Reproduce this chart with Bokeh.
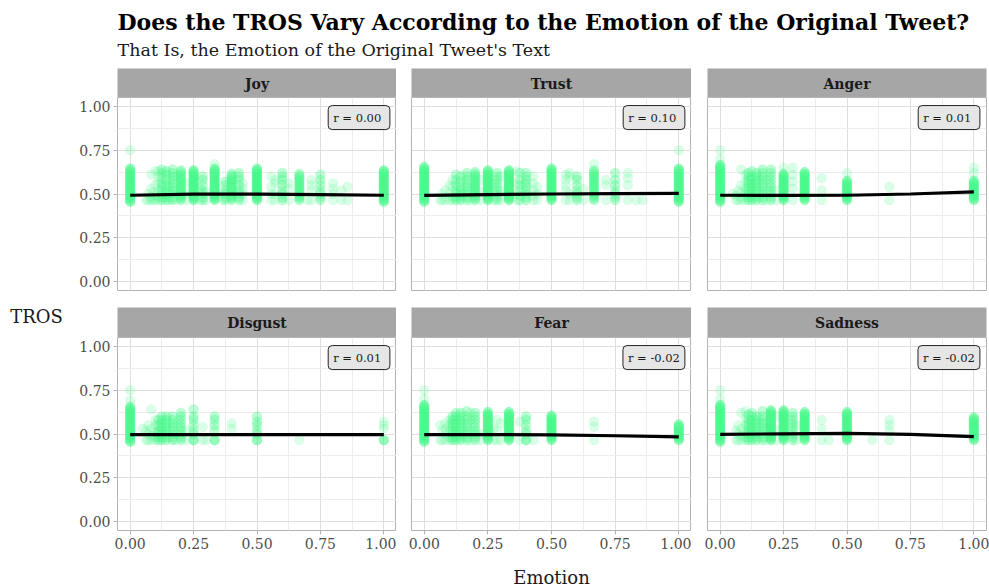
from bokeh.plotting import figure
from bokeh.layouts import row, column
from bokeh.models import Range1d, FixedTicker, NumeralTickFormatter, Label
from bokeh.core.properties import value
from bokeh.embed import file_html
from bokeh.resources import INLINE

FONT = "DejaVu Serif"
GREEN = "#4CF98A"

TITLE = "Does the TROS Vary According to the Emotion of the Original Tweet?"
SUBTITLE = "That Is, the Emotion of the Original Tweet's Text"
X_LABEL = "Emotion"
Y_LABEL = "TROS"
EMOTIONS = ["Joy", "Trust", "Anger", "Disgust", "Fear", "Sadness"]
R_TEXT = ["r =  0.00", "r =  0.10", "r =  0.01", "r =  0.01", "r = -0.02", "r = -0.02"]
TICKS = [0.0, 0.25, 0.5, 0.75, 1.0]
MINOR = [0.125, 0.375, 0.625, 0.875]

# fine TROS levels used for densely packed columns
LV = [0.455, 0.465, 0.475, 0.485, 0.495, 0.505, 0.515, 0.525, 0.535, 0.545, 0.555,
      0.565, 0.575, 0.585, 0.595, 0.605, 0.615, 0.625, 0.635, 0.645, 0.655, 0.665]


def dense(top, low=0.465):
    return [v for v in LV if low <= v <= top]


# (emotion score, TROS values, overlap count)
joy_cols = [
    (0.000, dense(0.645, 0.455), 3), (0.000, [0.75], 1),
    (0.063, [0.465], 1), (0.071, [0.465, 0.50], 1),
    (0.083, [0.465, 0.48, 0.53, 0.61], 1), (0.091, [0.465, 0.51], 1),
    (0.100, [0.465, 0.49, 0.55, 0.63], 1), (0.111, [0.465, 0.48, 0.52, 0.57, 0.60, 0.63], 1),
    (0.125, [0.465, 0.48, 0.50, 0.52, 0.54, 0.56, 0.59, 0.62, 0.64], 2),
    (0.143, [0.465, 0.48, 0.50, 0.52, 0.55, 0.58, 0.61, 0.63], 2),
    (0.154, [0.465, 0.50, 0.55], 1),
    (0.167, [0.465, 0.48, 0.50, 0.52, 0.54, 0.56, 0.58, 0.60, 0.62, 0.64], 2),
    (0.182, [0.465, 0.52, 0.60], 1),
    (0.200, dense(0.635), 2), (0.222, [0.465, 0.50, 0.56], 1),
    (0.250, dense(0.635), 3), (0.273, [0.465, 0.53], 1),
    (0.286, [0.465, 0.48, 0.50, 0.52, 0.55, 0.58, 0.60], 2), (0.300, [0.465, 0.51], 1),
    (0.333, dense(0.645), 3), (0.333, [0.67], 1), (0.364, [0.465, 0.50], 1),
    (0.375, [0.465, 0.48, 0.50, 0.52, 0.55, 0.57], 2),
    (0.400, dense(0.615), 2),
    (0.429, [0.465, 0.48, 0.50, 0.52, 0.55, 0.58, 0.60, 0.62], 2),
    (0.444, [0.465, 0.50, 0.53, 0.56], 1),
    (0.500, dense(0.645), 3),
    (0.556, [0.465, 0.50, 0.54, 0.60], 1), (0.571, [0.465, 0.50, 0.56, 0.58], 1),
    (0.600, [0.465, 0.48, 0.50, 0.52, 0.55, 0.58, 0.60, 0.62], 2),
    (0.625, [0.465, 0.53, 0.56], 1),
    (0.667, dense(0.615), 2), (0.700, [0.465], 1),
    (0.714, [0.465, 0.52, 0.55, 0.58], 1),
    (0.750, [0.465, 0.48, 0.50, 0.52, 0.55, 0.58, 0.61], 2),
    (0.800, [0.465, 0.50, 0.53, 0.56], 1), (0.833, [0.465, 0.52], 1),
    (0.857, [0.465, 0.54], 1),
    (1.000, dense(0.635, 0.455), 3),
]

trust_cols = [
    (0.000, dense(0.655, 0.455), 3),
    (0.063, [0.465], 1), (0.071, [0.465, 0.50], 1), (0.083, [0.465, 0.52], 1),
    (0.100, [0.465, 0.50, 0.55], 1), (0.111, [0.465, 0.48, 0.54, 0.58], 1),
    (0.125, [0.465, 0.48, 0.50, 0.52, 0.55, 0.58, 0.61], 2),
    (0.143, [0.465, 0.48, 0.50, 0.52, 0.54, 0.57, 0.60], 2),
    (0.167, [0.465, 0.48, 0.50, 0.52, 0.54, 0.56, 0.58, 0.60, 0.62], 2),
    (0.182, [0.465, 0.53], 1),
    (0.200, dense(0.625), 2), (0.222, [0.465, 0.51, 0.58], 1),
    (0.250, dense(0.635), 3), (0.273, [0.465, 0.55], 1),
    (0.286, [0.465, 0.48, 0.50, 0.52, 0.54, 0.56, 0.58, 0.60, 0.62], 2),
    (0.300, [0.465, 0.52, 0.60], 1),
    (0.333, dense(0.635), 3), (0.364, [0.465, 0.50, 0.56, 0.63], 1),
    (0.375, [0.465, 0.49, 0.52, 0.55, 0.58, 0.62], 2),
    (0.400, [0.465, 0.48, 0.50, 0.52, 0.54, 0.56, 0.58, 0.60, 0.62], 2),
    (0.429, [0.465, 0.49, 0.52, 0.56, 0.60], 1), (0.444, [0.465, 0.50, 0.54], 1),
    (0.500, dense(0.645), 3),
    (0.556, [0.465, 0.52, 0.55, 0.58, 0.61], 1), (0.571, [0.465, 0.50, 0.60, 0.62], 1),
    (0.600, [0.465, 0.48, 0.50, 0.52, 0.55, 0.58, 0.60], 2),
    (0.625, [0.465, 0.53], 1),
    (0.667, dense(0.635), 2), (0.667, [0.67], 1),
    (0.714, [0.465, 0.55, 0.58], 1),
    (0.750, [0.465, 0.48, 0.50, 0.52, 0.55, 0.58, 0.62], 2),
    (0.800, [0.465, 0.55, 0.59, 0.62], 1), (0.833, [0.465], 1), (0.857, [0.465], 1),
    (1.000, dense(0.645, 0.455), 3), (1.000, [0.75], 1),
]

anger_cols = [
    (0.000, dense(0.665, 0.455), 3), (0.000, [0.70, 0.75], 1),
    (0.050, [0.50], 1), (0.063, [0.465, 0.49], 1), (0.071, [0.465, 0.52], 1),
    (0.083, [0.465, 0.48, 0.51, 0.55, 0.64], 1),
    (0.100, [0.465, 0.50, 0.53, 0.57, 0.61], 1),
    (0.111, [0.465, 0.48, 0.50, 0.52, 0.54, 0.56, 0.58, 0.60, 0.62], 2),
    (0.125, [0.465, 0.48, 0.50, 0.52, 0.54, 0.56, 0.58, 0.60, 0.63], 2),
    (0.143, [0.465, 0.48, 0.50, 0.52, 0.54, 0.56, 0.58, 0.60, 0.62], 2),
    (0.167, [0.465, 0.48, 0.50, 0.52, 0.54, 0.56, 0.58, 0.60, 0.62, 0.64], 2),
    (0.182, [0.465, 0.52, 0.58], 1),
    (0.200, [0.465, 0.48, 0.50, 0.52, 0.54, 0.56, 0.58, 0.60, 0.62, 0.64], 2),
    (0.222, [0.465, 0.52], 1),
    (0.250, dense(0.615), 3), (0.250, [0.65], 1),
    (0.286, [0.465, 0.53, 0.57, 0.61, 0.65], 1),
    (0.333, dense(0.625), 3),
    (0.400, [0.465, 0.52, 0.59], 1),
    (0.500, dense(0.575), 3), (0.500, [0.62], 1),
    (0.667, [0.465, 0.54], 1),
    (1.000, dense(0.575), 3), (1.000, [0.62, 0.65], 1),
]

disgust_cols = [
    (0.000, dense(0.655, 0.455), 3), (0.000, [0.69, 0.75], 1),
    (0.050, [0.53], 1), (0.063, [0.465, 0.52], 1), (0.071, [0.465, 0.50, 0.55], 1),
    (0.083, [0.465, 0.49, 0.53, 0.64], 1),
    (0.100, [0.465, 0.48, 0.51, 0.55, 0.58], 1),
    (0.111, [0.465, 0.48, 0.50, 0.52, 0.55, 0.58], 2),
    (0.125, [0.465, 0.48, 0.50, 0.52, 0.54, 0.56, 0.58, 0.60], 2),
    (0.143, [0.465, 0.48, 0.50, 0.52, 0.54, 0.56, 0.58, 0.60], 2),
    (0.167, [0.465, 0.48, 0.50, 0.52, 0.54, 0.56, 0.58, 0.60], 2),
    (0.182, [0.465, 0.50, 0.55], 1),
    (0.200, [0.465, 0.48, 0.50, 0.52, 0.54, 0.56, 0.58, 0.60, 0.62], 2),
    (0.222, [0.465, 0.52], 1),
    (0.250, [0.465, 0.465, 0.50, 0.52, 0.55, 0.58, 0.60, 0.64], 2),
    (0.286, [0.465, 0.54], 1), (0.300, [0.465], 1),
    (0.333, [0.465, 0.465, 0.52, 0.55, 0.58, 0.60], 2),
    (0.400, [0.53, 0.56], 1),
    (0.500, [0.465, 0.465, 0.50, 0.52, 0.55, 0.57, 0.60], 2),
    (0.667, [0.465], 1),
    (1.000, [0.465], 4), (1.000, [0.53, 0.55, 0.57], 1),
]

fear_cols = [
    (0.000, dense(0.665, 0.455), 3), (0.000, [0.70, 0.75], 1),
    (0.063, [0.465, 0.55], 1), (0.071, [0.465, 0.52], 1),
    (0.083, [0.465, 0.50, 0.53, 0.56], 1),
    (0.100, [0.465, 0.48, 0.52, 0.55, 0.58], 1),
    (0.111, [0.465, 0.48, 0.50, 0.52, 0.54, 0.56, 0.58, 0.60], 2),
    (0.125, [0.465, 0.48, 0.50, 0.52, 0.54, 0.56, 0.58, 0.60, 0.62], 2),
    (0.143, [0.465, 0.48, 0.50, 0.52, 0.54, 0.56, 0.58, 0.60, 0.62], 2),
    (0.167, [0.465, 0.48, 0.50, 0.52, 0.54, 0.56, 0.58, 0.60, 0.63], 2),
    (0.182, [0.465, 0.52, 0.58, 0.62], 1),
    (0.200, [0.465, 0.48, 0.50, 0.52, 0.54, 0.56, 0.58, 0.60, 0.62], 2),
    (0.222, [0.465, 0.50], 1),
    (0.250, dense(0.625), 3),
    (0.273, [0.465, 0.53], 1), (0.286, [0.465, 0.52, 0.58], 1), (0.300, [0.465, 0.56], 1),
    (0.333, dense(0.625), 3),
    (0.375, [0.465, 0.57], 1),
    (0.400, [0.465, 0.465, 0.50, 0.52, 0.55, 0.58, 0.60], 2),
    (0.429, [0.465], 1),
    (0.500, dense(0.605), 3),
    (0.667, [0.465, 0.54, 0.57], 1),
    (1.000, dense(0.555), 3),
]

sadness_cols = [
    (0.000, dense(0.665, 0.455), 3), (0.000, [0.70, 0.75], 1),
    (0.063, [0.465, 0.52], 1), (0.071, [0.465, 0.50, 0.55], 1),
    (0.083, [0.465, 0.49, 0.53, 0.62], 1),
    (0.100, [0.465, 0.48, 0.51, 0.55, 0.59, 0.63], 1),
    (0.111, [0.465, 0.48, 0.50, 0.52, 0.54, 0.56, 0.58, 0.61], 2),
    (0.125, [0.465, 0.48, 0.50, 0.52, 0.54, 0.56, 0.58, 0.60, 0.62], 2),
    (0.143, [0.465, 0.48, 0.50, 0.52, 0.54, 0.56, 0.58, 0.60], 2),
    (0.167, [0.465, 0.48, 0.50, 0.52, 0.54, 0.56, 0.58, 0.60, 0.63], 2),
    (0.182, [0.465, 0.53, 0.57], 1),
    (0.200, dense(0.635), 3), (0.222, [0.465, 0.52, 0.60], 1),
    (0.250, dense(0.635), 3),
    (0.286, [0.465, 0.48, 0.50, 0.52, 0.54, 0.56, 0.58, 0.60, 0.62], 2),
    (0.300, [0.465, 0.55], 1),
    (0.333, dense(0.625), 3),
    (0.400, [0.465, 0.53, 0.58], 1), (0.429, [0.465], 1),
    (0.500, dense(0.625), 3),
    (0.600, [0.465], 1),
    (0.667, [0.465, 0.52, 0.55, 0.58], 1),
    (1.000, dense(0.595), 3),
]

# smoothed fits (emotion score, fitted TROS)
fit_x = [0.0, 0.25, 0.5, 0.75, 1.0]
joy_fit = [0.493, 0.499, 0.499, 0.497, 0.493]
trust_fit = [0.492, 0.497, 0.500, 0.502, 0.503]
anger_fit = [0.493, 0.492, 0.493, 0.500, 0.512]
disgust_fit = [0.496, 0.496, 0.496, 0.496, 0.496]
fear_fit = [0.497, 0.497, 0.495, 0.490, 0.484]
sadness_fit = [0.498, 0.501, 0.503, 0.498, 0.485]

ALL_COLS = [joy_cols, trust_cols, anger_cols, disgust_cols, fear_cols, sadness_cols]
ALL_FITS = [joy_fit, trust_fit, anger_fit, disgust_fit, fear_fit, sadness_fit]


def expand(cols):
    xs, ys = [], []
    for x, levels, n in cols:
        for y in levels:
            xs += [x] * n
            ys += [y] * n
    return xs, ys


# column geometry: (border_left, border_right, frame width)
COLS_GEOM = [(47, 0, 279), (15, 0, 280), (16, 3, 279)]
TICK_COLOR = "#b3b3b3"
LABEL_COLOR = "#4d4d4d"


def make_strip(name, geom, h):
    bl, br, fw = geom
    s = figure(width=bl + fw + br, height=h, x_range=Range1d(0, 1), y_range=Range1d(0, 1),
               x_axis_location=None, y_axis_location=None, toolbar_location=None,
               output_backend="svg", min_border_left=bl, min_border_right=br,
               min_border_top=0, min_border_bottom=0, background_fill_color="#a6a6a6",
               outline_line_color=None)
    s.grid.visible = False
    s.text(x=[0.5], y=[0.48], text=[name], text_font=value(FONT), text_font_style="bold",
           text_align="center", text_baseline="middle", text_font_size="14px",
           text_color="#1a1a1a")
    return s


def make_panel(i, geom, bb, left_axis, bottom_axis):
    bl, br, fw = geom
    p = figure(width=bl + fw + br, height=193 + bb,
               x_range=Range1d(-0.05, 1.05), y_range=Range1d(-0.05, 1.05),
               x_axis_location="below" if bottom_axis else None,
               y_axis_location="left" if left_axis else None,
               toolbar_location=None, output_backend="svg",
               min_border_left=bl, min_border_right=br, min_border_top=0,
               min_border_bottom=bb, outline_line_color=TICK_COLOR, outline_line_width=1,
               background_fill_color="white", border_fill_color="white")
    for g in (p.xgrid, p.ygrid):
        g.ticker = FixedTicker(ticks=TICKS, minor_ticks=MINOR)
        g.grid_line_color = "#dedede"
        g.grid_line_width = 1
        g.minor_grid_line_color = "#ececec"
        g.minor_grid_line_width = 1
    for ax in list(p.xaxis) + list(p.yaxis):
        ax.ticker = FixedTicker(ticks=TICKS)
        ax.formatter = NumeralTickFormatter(format="0.00")
        ax.axis_line_color = None
        ax.major_tick_line_color = TICK_COLOR
        ax.major_tick_in = 0
        ax.major_tick_out = 4
        ax.minor_tick_line_color = None
        ax.major_label_standoff = 3
        ax.major_label_text_font = FONT
        ax.major_label_text_font_size = "14px"
        ax.major_label_text_color = LABEL_COLOR
    xs, ys = expand(ALL_COLS[i])
    p.scatter(xs, ys, size=9.5, fill_color=GREEN, fill_alpha=0.2,
              line_color=GREEN, line_alpha=0.2, line_width=0.5)
    p.line(fit_x, ALL_FITS[i], line_color="black", line_width=3.2)
    p.add_layout(Label(x=1.024, y=1.004, anchor="top_right", text=R_TEXT[i],
                       text_font=FONT, text_font_size="11.5px", text_color="#1a1a1a",
                       background_fill_color="#e6e6e6", border_line_color="#222222",
                       border_line_width=1, border_radius=4, padding=5))
    return p


strips1 = [make_strip(EMOTIONS[j], COLS_GEOM[j], 29) for j in range(3)]
panels1 = [make_panel(j, COLS_GEOM[j], 17, j == 0, False) for j in range(3)]
strips2 = [make_strip(EMOTIONS[3 + j], COLS_GEOM[j], 30) for j in range(3)]
panels2 = [make_panel(3 + j, COLS_GEOM[j], 30, j == 0, True) for j in range(3)]

grid = column(row(*strips1, spacing=0), row(*panels1, spacing=0),
              row(*strips2, spacing=0), row(*panels2, spacing=0), spacing=0)


def blank(w, h):
    f = figure(width=w, height=h, x_range=Range1d(0, w), y_range=Range1d(h, 0),
               x_axis_location=None, y_axis_location=None, toolbar_location=None,
               output_backend="svg", min_border=0, outline_line_color=None)
    f.grid.visible = False
    return f


header = blank(989, 68)
header.text(x=[117], y=[21], text=[TITLE], text_font=value(FONT), text_font_style="bold",
            text_font_size="22px", text_color="black", text_baseline="alphabetic")
header.text(x=[117], y=[49], text=[SUBTITLE], text_font=value(FONT),
            text_font_size="17.5px", text_color="#1a1a1a", text_baseline="alphabetic")

side = blank(70, 492)
side.text(x=[36], y=[248], text=[Y_LABEL], text_font=value(FONT), text_font_size="18px",
          text_color="#1a1a1a", text_align="center", text_baseline="middle")

footer = blank(989, 27)
footer.text(x=[551], y=[17], text=[X_LABEL], text_font=value(FONT), text_font_size="18px",
            text_color="#1a1a1a", text_align="center", text_baseline="middle")

layout = column(header, row(side, grid, spacing=0), footer, spacing=0)

open("out.html", "w").write(file_html(layout, INLINE))
